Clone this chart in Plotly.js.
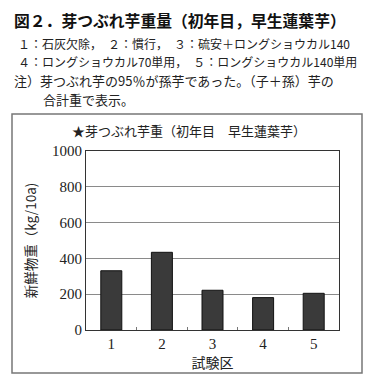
<!DOCTYPE html>
<html>
<head>
<meta charset="utf-8">
<script src="https://cdn.plot.ly/plotly-3.0.1.min.js"></script>
<style>
html,body{margin:0;padding:0;background:#fff;}
#chart{width:373px;height:384px;}
</style>
</head>
<body>
<div id="chart"></div>
<script>
const categories = ['1', '2', '3', '4', '5'];
const weights = [331, 434, 222, 181, 205];
const yTicks = [0, 200, 400, 600, 800, 1000];
const headerTitle = '図２．芽つぶれ芋重量（初年目，早生蓮葉芋）';
const legendLines = [
  '１：石灰欠除，　２：慣行，　３：硫安＋ロングショウカル140',
  '４：ロングショウカル70単用，　５：ロングショウカル140単用',
  '注）芽つぶれ芋の95％が孫芋であった。（子＋孫）芋の',
  '合計重で表示。'
];
const chartTitle = '★芽つぶれ芋重（初年目　早生蓮葉芋）';
const yTitle = '新鮮物重（kg/10a)';
const xTitle = '試験区';

const W = 373, H = 384;
const M = {l: 86, r: 34, t: 151, b: 54};
const pw = W - M.l - M.r, ph = H - M.t - M.b;
const xp = px => (px - M.l) / pw;
const yp = py => (H - M.b - py) / ph;

const serif = 'Liberation Serif, Noto Sans CJK JP, serif';
const jp = 'Noto Sans CJK JP, sans-serif';

const annotations = [
  {text: '<b>' + headerTitle + '</b>', x: xp(12), y: yp(20), font: {family: jp, size: 15.8, color: '#111'}},
  {text: legendLines[0], x: xp(16), y: yp(43), font: {family: jp, size: 12, color: '#222'}},
  {text: legendLines[1], x: xp(16), y: yp(61), font: {family: jp, size: 12, color: '#222'}},
  {text: legendLines[2], x: xp(12), y: yp(80), font: {family: jp, size: 13, color: '#222'}},
  {text: legendLines[3], x: xp(41), y: yp(99), font: {family: jp, size: 13, color: '#222'}},
  {text: chartTitle, x: xp(189), y: yp(131), xanchor: 'center', font: {family: jp, size: 13, color: '#222'}}
].map(a => Object.assign({xref: 'paper', yref: 'paper', showarrow: false, xanchor: 'left', yanchor: 'middle'}, a));

const trace = {
  type: 'bar',
  x: categories,
  y: weights,
  marker: {color: '#3a3a3a', line: {color: '#111', width: 1}},
  hoverinfo: 'x+y'
};

const layout = {
  width: W, height: H,
  margin: M,
  paper_bgcolor: '#fff',
  plot_bgcolor: '#fff',
  showlegend: false,
  bargap: 0.585,
  xaxis: {
    type: 'category',
    showline: true, mirror: true, linecolor: '#333', linewidth: 1,
    ticks: 'inside', tickson: 'boundaries', ticklen: 3, tickcolor: '#777',
    tickfont: {family: serif, size: 15, color: '#222'},
    title: {text: xTitle, font: {family: jp, size: 14, color: '#222'}, standoff: 4},
    showgrid: false
  },
  yaxis: {
    range: [0, 1000],
    tickvals: yTicks,
    showline: true, mirror: true, linecolor: '#333', linewidth: 1,
    showgrid: true, gridcolor: '#8a8a8a', gridwidth: 1,
    zeroline: false,
    ticks: '',
    tickfont: {family: serif, size: 15, color: '#222'},
    title: {text: yTitle, font: {family: jp, size: 13.5, color: '#222'}, standoff: 12}
  },
  annotations: annotations,
  shapes: [{
    type: 'rect', xref: 'paper', yref: 'paper', layer: 'below',
    x0: xp(12), x1: xp(362), y0: yp(373), y1: yp(114),
    line: {color: '#777', width: 1.5}
  }]
};

Plotly.newPlot('chart', [trace], layout, {displayModeBar: false, staticPlot: true});
</script>
</body>
</html>
